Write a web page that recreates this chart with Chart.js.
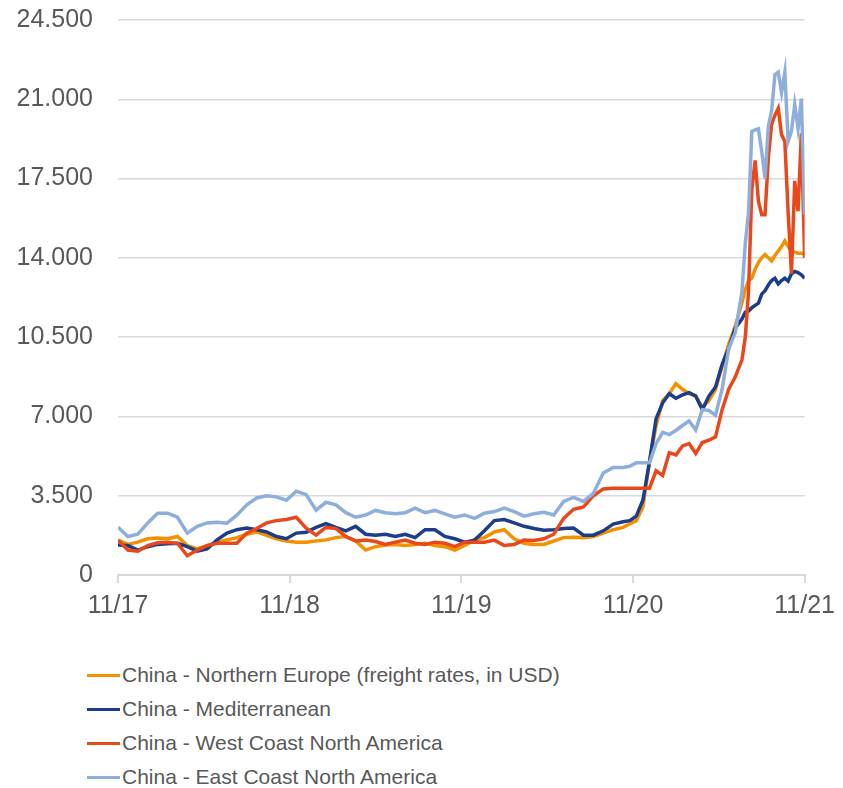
<!DOCTYPE html>
<html>
<head>
<meta charset="utf-8">
<script src="https://cdn.jsdelivr.net/npm/chart.js@4"></script>
<style>
  body { margin: 0; background: #fff; font-family: "Liberation Sans", Arial, sans-serif; overflow: hidden; }
  #wrap { position: relative; width: 843px; height: 788px; overflow: hidden; }
  #chartBox { position: absolute; left: 0; top: -20px; width: 843px; height: 670px; }
  #legend { position: absolute; left: 87px; top: 658px; }
  .row { height: 34px; display: flex; align-items: center; color: #595959; font-size: 21px; }
  .mark { width: 33px; height: 3px; margin-right: 2px; }
</style>
</head>
<body>
<div id="wrap">
  <div id="chartBox"><canvas id="freightChart"></canvas></div>
  <div id="legend"></div>
</div>
<script>
    // weeks since 11/2017
    const weeks = [0,3,6,9,12,15,18,21,24,27,30,33,36,39,42,45,48,51,54,57,60,63,66,69,72,75,78,81,84,87,90,93,96,99,102,105,108,111,114,117,120,123,126,129,132,135,138,141,144,147,150,153,
        155,157,159,161,163,165,167,169,171,173,175,177,179,181,183,185,187,189,
        190,191,192,193,194,195,196,197,198,199,200,201,202,203,204,205,206,207,208];
    const tickLabels = ['11/17', '11/18', '11/19', '11/20', '11/21'];

    const seriesNames = [
        'China - Northern Europe (freight rates, in USD)',
        'China - Mediterranean',
        'China - West Coast North America',
        'China - East Coast North America'
    ];
    const seriesColors = ['#F39200', '#1C3D8C', '#E9481B', '#8EAEDB'];

    const northernEurope = [1540,1350,1450,1600,1630,1600,1700,1300,1150,1300,1450,1550,1650,1800,1900,1750,1600,1500,1450,1450,1500,1550,1650,1700,1500,1100,1250,1320,1350,1300,1350,1400,1300,1250,1100,1300,1550,1650,1900,2000,1600,1400,1350,1350,1500,1650,1670,1650,1700,1850,2000,2100,
        2250,2400,3000,5000,6600,7700,8000,8450,8200,8000,7900,7400,7700,8200,9200,10200,11000,12000,
        12600,13000,13100,13500,13800,14000,14150,14000,13860,14100,14300,14500,14750,14500,14300,14250,14200,14200,14150];
    const mediterranean = [1320,1300,1100,1250,1350,1380,1400,1250,1050,1150,1550,1850,2000,2070,2000,1900,1700,1600,1850,1890,2100,2270,2100,1950,2150,1800,1750,1800,1700,1800,1650,2000,2000,1700,1600,1450,1540,1950,2400,2450,2300,2150,2050,1980,2000,2050,2070,1760,1760,1950,2250,2350,
        2400,2600,3300,5000,6900,7600,8000,7800,7950,8050,7900,7300,7900,8300,9300,10000,10900,11300,
        11600,11650,11800,11900,12000,12400,12550,12800,13000,13100,12850,13000,13100,12970,13300,13400,13350,13250,13100];
    const westCoast = [1540,1100,1050,1300,1420,1450,1400,850,1100,1300,1400,1400,1400,1850,2050,2300,2400,2450,2550,2070,1760,2100,2050,1700,1500,1540,1480,1350,1450,1540,1400,1350,1450,1400,1250,1450,1450,1450,1540,1300,1350,1540,1520,1600,1800,2500,2900,3000,3500,3800,3830,3830,
        3830,3830,3830,3830,4600,4400,5400,5300,5700,5800,5360,5850,5950,6100,7300,8200,8750,9500,
        10470,12500,17000,18300,16500,15900,15900,18400,19900,20300,20600,19450,19140,16000,13300,17400,16060,19500,14000];
    const eastCoast = [2110,1700,1800,2300,2730,2730,2550,1850,2150,2300,2330,2290,2640,3100,3400,3500,3450,3300,3700,3550,2860,3210,3100,2750,2550,2650,2850,2750,2700,2750,2950,2750,2850,2700,2550,2650,2500,2730,2800,2950,2800,2600,2700,2770,2650,3250,3430,3250,3600,4500,4750,4750,
        4800,4950,4950,4950,5800,6300,6200,6380,6600,6800,6400,7300,7260,7050,8200,10000,10700,12500,
        14600,16000,19580,19650,19700,18700,17510,19800,20500,22090,22200,21300,22200,19140,19580,20770,19710,21030,15900];

    const allSeries = [northernEurope, mediterranean, westCoast, eastCoast];
    const tickFont = { family: '"Liberation Sans", Arial, sans-serif', size: 25 };

    const ctx = document.getElementById('freightChart').getContext('2d');

    const data = {
        datasets: allSeries.map((vals, i) => ({
            label: seriesNames[i],
            data: vals.map((v, j) => ({ x: weeks[j], y: v })),
            borderColor: seriesColors[i],
            backgroundColor: seriesColors[i],
            borderWidth: 3.5,
            pointRadius: 0,
            tension: 0,
            order: 4 - i // later series drawn on top, like the original
        }))
    };

    const config = {
        type: 'line',
        data: data,
        options: {
            responsive: true,
            maintainAspectRatio: false,
            animation: false,
            layout: { padding: { top: 0, right: 35, left: 0, bottom: 0 } },
            plugins: {
                legend: { display: false },
                tooltip: { enabled: false }
            },
            scales: {
                x: {
                    type: 'linear',
                    min: 0,
                    max: 208,
                    afterFit: (scale) => { scale.height = 75; },
                    afterBuildTicks: (scale) => {
                        scale.ticks = tickLabels.map((t, i) => ({ value: i * 52 }));
                    },
                    ticks: {
                        autoSkip: false,
                        maxRotation: 0,
                        padding: 8,
                        color: '#595959',
                        font: tickFont,
                        callback: (value) => tickLabels[Math.round(value / 52)]
                    },
                    grid: { drawOnChartArea: false, drawTicks: true, tickLength: 8, color: '#d9d9d9', lineWidth: 2 },
                    border: { display: true, color: '#d9d9d9', width: 2 }
                },
                y: {
                    min: 0,
                    max: 24500,
                    afterFit: (scale) => { scale.width = 118; },
                    ticks: {
                        stepSize: 3500,
                        padding: 25,
                        color: '#595959',
                        font: tickFont,
                        callback: (value) => value.toLocaleString('de-DE')
                    },
                    grid: { color: '#d9d9d9', lineWidth: 1.5, drawTicks: false },
                    border: { display: false }
                }
            }
        }
    };

    const freightChart = new Chart(ctx, config);

    // legend as a plain list, one series per row
    const legendEl = document.getElementById('legend');
    seriesNames.forEach((name, i) => {
        const row = document.createElement('div');
        row.className = 'row';
        row.innerHTML = '<span class="mark" style="background:' + seriesColors[i] + '"></span><span>' + name + '</span>';
        legendEl.appendChild(row);
    });
</script>
</body>
</html>
